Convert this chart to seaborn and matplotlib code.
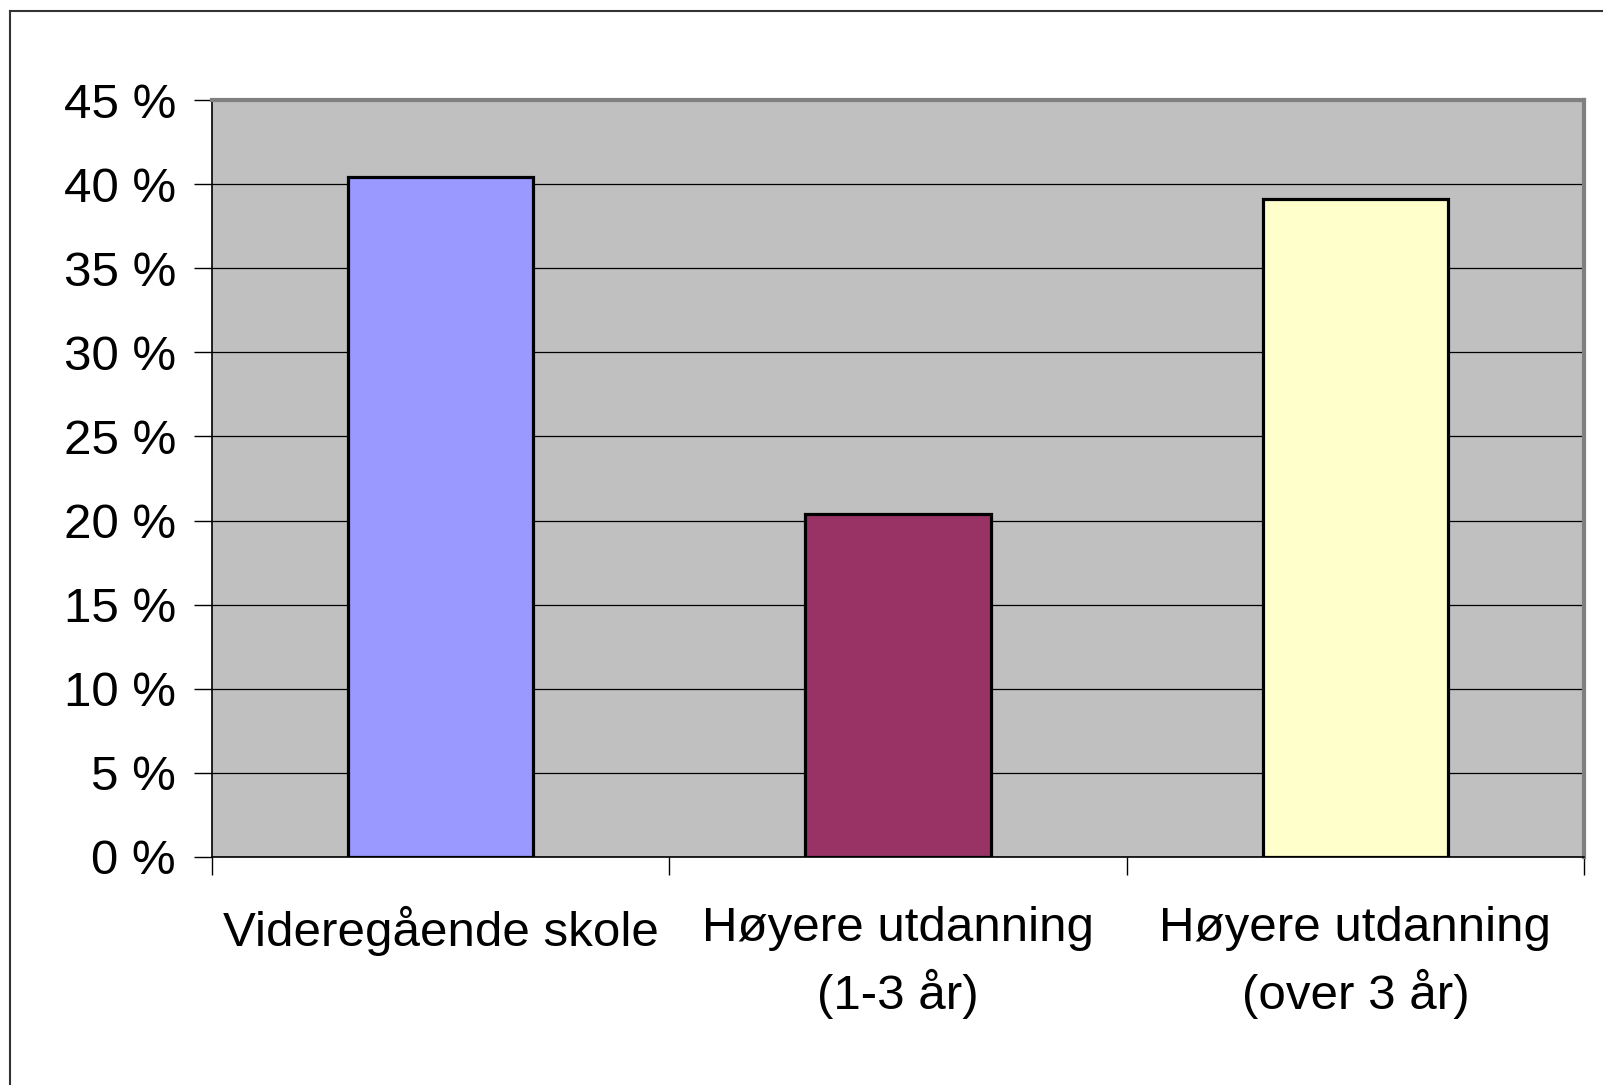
import matplotlib
matplotlib.use("Agg")
import matplotlib.pyplot as plt
import seaborn as sns
import pandas as pd
from matplotlib.lines import Line2D

categories = ["Videregående skole", "Høyere utdanning\n(1-3 år)", "Høyere utdanning\n(over 3 år)"]
values = [40.4, 20.4, 39.1]
colors = ["#9999FF", "#993366", "#FFFFCC"]
yticks = [0, 5, 10, 15, 20, 25, 30, 35, 40, 45]

df = pd.DataFrame({"cat": categories, "val": values})

plt.rcParams['font.family'] = ['Liberation Sans', 'DejaVu Sans']

W, H = 1603, 1085
fig = plt.figure(figsize=(W / 100, H / 100), dpi=100)
fig.patch.set_facecolor("white")
ax = fig.add_axes([212 / W, 1 - 857 / H, (1584 - 212) / W, (857 - 100) / H])
ax.set_facecolor("#C0C0C0")

sns.barplot(data=df, x="cat", y="val", hue="cat", palette=colors, legend=False,
            saturation=1, width=0.405, edgecolor="black", linewidth=2.3, ax=ax, zorder=3)

ax.set_ylim(0, 45)
ax.set_xlim(-0.5, 2.5)
ax.set_yticks(yticks)
ax.set_yticklabels([f"{t} %" for t in yticks])
ax.yaxis.grid(True, color="black", linewidth=0.9, zorder=1)
ax.set_axisbelow(True)
ax.set_xlabel("")
ax.set_ylabel("")

# x ticks at category boundaries, labels at centres
ax.set_xticks([-0.5, 0.5, 1.5, 2.5])
ax.set_xticklabels([])
ax.set_xticks([0, 1, 2], minor=True)
ax.set_xticklabels(categories, minor=True, fontsize=35.5, linespacing=1.45)
ax.tick_params(axis="x", which="minor", length=0, pad=35)
ax.tick_params(axis="x", which="major", length=13, width=1, color="black", direction="out")
ax.tick_params(axis="y", length=13, width=1, color="black", direction="out", labelsize=35.5, pad=13)

for s in ["top", "right"]:
    ax.spines[s].set_color("#808080")
    ax.spines[s].set_linewidth(3)
for s in ["left", "bottom"]:
    ax.spines[s].set_color("black")
    ax.spines[s].set_linewidth(1.2)

# outer chart frame
fig.add_artist(Line2D([10 / W, 10 / W], [1 - 11 / H, -0.01], transform=fig.transFigure,
                      color="#333333", linewidth=1.5))
fig.add_artist(Line2D([10 / W, 1.01], [1 - 11 / H, 1 - 11 / H], transform=fig.transFigure,
                      color="#333333", linewidth=1.5))

fig.savefig("out.png", dpi=100, facecolor="white")
